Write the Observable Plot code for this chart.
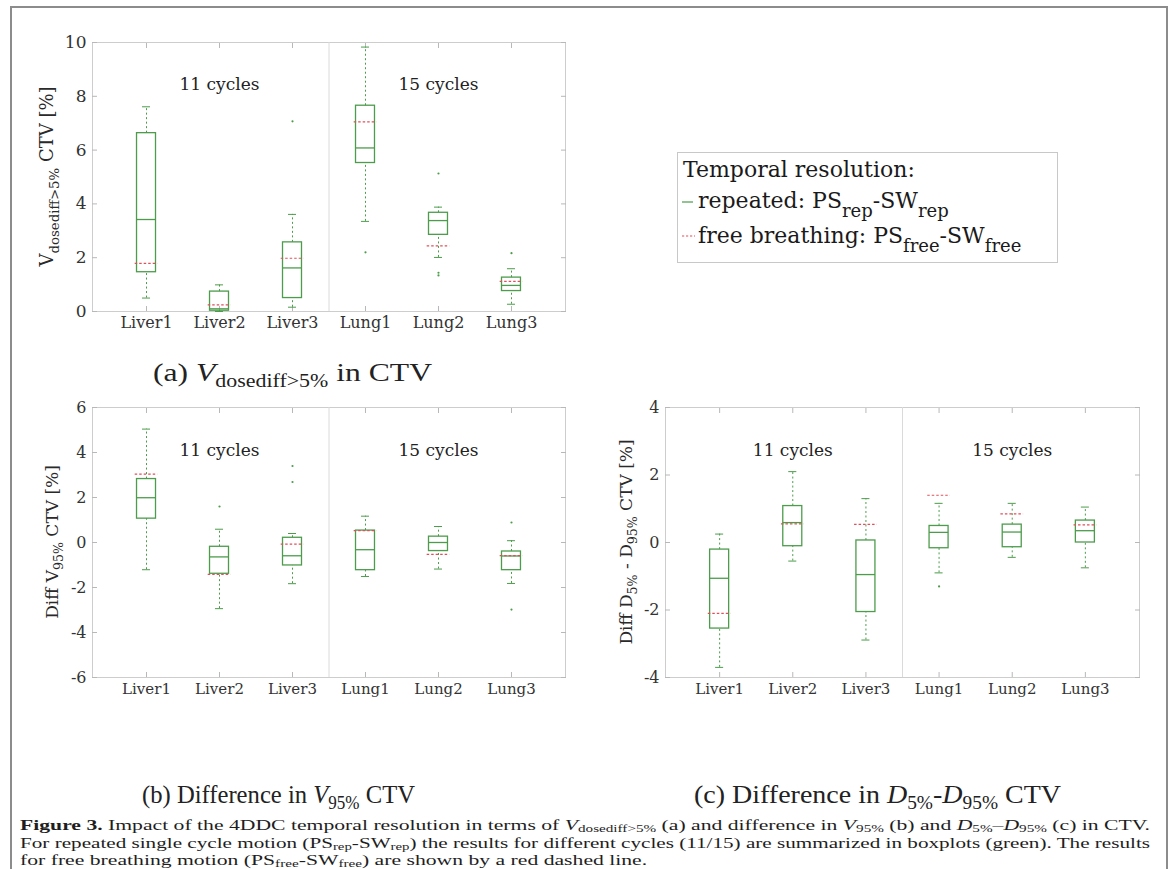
<!DOCTYPE html>
<html>
<head>
<meta charset="utf-8">
<script src="https://cdn.jsdelivr.net/npm/d3@7"></script>
<script src="https://cdn.jsdelivr.net/npm/@observablehq/plot@0.6"></script>
<style>
  html, body { margin: 0; padding: 0; background: #fff; }
  #fig { position: relative; width: 1173px; height: 869px; overflow: hidden; background: #fff; }
  #frame { position: absolute; left: 10px; top: 6px; width: 1158px; height: 900px; border: 2px solid #8c8c8c; box-sizing: border-box; }
  .panel { position: absolute; }
  .panel svg { display: block; max-width: none !important; overflow: visible; }
  .sub { position: absolute; white-space: nowrap; font-family: "Liberation Serif", serif; font-size: 26px; line-height: normal; color: #222; transform-origin: 0 0; }
  .sub sub { font-size: 18px; vertical-align: -6px; line-height: 0; }
  #legend { position: absolute; left: 677px; top: 152px; width: 381px; height: 111px; border: 1px solid #c8c8c8; box-sizing: border-box; background: #fff; font-family: "DejaVu Serif", serif; font-size: 22px; color: #1a1a1a; }
  #legend .row { position: absolute; white-space: nowrap; line-height: normal; }
  #legend sub { font-size: 18px; vertical-align: -8.5px; line-height: 0; }
  #legend svg { position: absolute; }
  .cap { position: absolute; left: 20px; height: 16px; white-space: nowrap; font-family: "Liberation Serif", serif; font-size: 15px; line-height: 16px; color: #1e1e1e; transform-origin: 0 0; }
  .cap sub { font-size: 10.5px; vertical-align: -1.5px; line-height: 0; }
</style>
</head>
<body>
<div id="fig">
  <div id="frame"></div>
  <div class="panel" id="pa" style="left:0px;top:0px;width:600px;"></div>
  <div class="panel" id="pb" style="left:0px;top:380px;width:600px;"></div>
  <div class="panel" id="pc" style="left:580px;top:380px;width:580px;"></div>

  <div id="legend">
    <div class="row" style="left:5px;top:3.6px;">Temporal resolution:</div>
    <svg style="left:4px;top:47px;" width="12" height="4"><line x1="0" y1="2" x2="11" y2="2" stroke="#4c9c4c" stroke-width="1.2"/></svg>
    <div class="row" style="left:20px;top:35.1px;">repeated: PS<sub>rep</sub>-SW<sub>rep</sub></div>
    <svg style="left:4px;top:81px;" width="14" height="4"><line x1="0" y1="2" x2="13" y2="2" stroke="#e0505a" stroke-width="1.2" stroke-dasharray="2.2,1.8"/></svg>
    <div class="row" style="left:20px;top:69.6px;">free breathing: PS<sub>free</sub>-SW<sub>free</sub></div>
  </div>

  <div class="sub" id="suba" data-cx="292" data-w="279" style="top:358px;">(a) <i>V</i><sub>dosediff&gt;5%</sub> in CTV</div>
  <div class="sub" id="subb" data-cx="278" data-w="273" style="top:780px;">(b) Difference in <i>V</i><sub>95%</sub> CTV</div>
  <div class="sub" id="subc" data-cx="877" data-w="367" style="top:780px;">(c) Difference in <i>D</i><sub>5%</sub>-<i>D</i><sub>95%</sub> CTV</div>

  <div class="cap" id="cap1" data-w="1130" style="top:817.2px;"><b>Figure 3.</b> Impact of the 4DDC temporal resolution in terms of <i>V</i><sub>dosediff&gt;5%</sub> (a) and difference in <i>V</i><sub>95%</sub> (b) and <i>D</i><sub>5%</sub>–<i>D</i><sub>95%</sub> (c) in CTV.</div>
  <div class="cap" id="cap2" data-w="1130" style="top:834.7px;">For repeated single cycle motion (PS<sub>rep</sub>-SW<sub>rep</sub>) the results for different cycles (11/15) are summarized in boxplots (green). The results</div>
  <div class="cap" id="cap3" style="top:852.2px;">for free breathing motion (PS<sub>free</sub>-SW<sub>free</sub>) are shown by a red dashed line.</div>
</div>

<script>
// Cases and cycle groups shared by all three panels
const cases = ["Liver1", "Liver2", "Liver3", "Lung1", "Lung2", "Lung3"];
const groups = ["11 cycles", "15 cycles"];
const groupSizes = [3, 3];

// (a) V_dosediff>5% in CTV [%]
const aLow  = [0.50, 0.00, 0.16, 3.35, 2.01, 0.27];
const aQ1   = [1.46, 0.03, 0.50, 5.52, 2.85, 0.76];
const aMed  = [3.42, 0.10, 1.62, 6.08, 3.38, 0.97];
const aQ3   = [6.63, 0.74, 2.57, 7.65, 3.67, 1.26];
const aHigh = [7.61, 0.99, 3.61, 9.83, 3.88, 1.59];
const aFree = [1.79, 0.25, 1.98, 7.05, 2.44, 1.12];
const aOutliers = [[], [], [7.07], [2.20], [5.13, 1.44, 1.34], [2.17]];
const aTicks = [0, 2, 4, 6, 8, 10];

// (b) Difference in V95% CTV [%]
const bLow  = [-1.21, -2.94, -1.83, -1.51, -1.18, -1.82];
const bQ1   = [1.06, -1.39, -1.02, -1.23, -0.38, -1.23];
const bMed  = [1.99, -0.64, -0.59, -0.32, 0.00, -0.60];
const bQ3   = [2.82, -0.19, 0.21, 0.53, 0.26, -0.40];
const bHigh = [5.04, 0.59, 0.40, 1.17, 0.71, 0.08];
const bFree = [3.04, -1.42, -0.07, 0.53, -0.53, -0.58];
const bOutliers = [[], [1.60], [3.40, 2.69], [], [], [0.89, -2.98]];
const bTicks = [-6, -4, -2, 0, 2, 4, 6];

// (c) Difference in D5%-D95% CTV [%]
const cLow  = [-3.70, -0.55, -2.89, -0.90, -0.44, -0.75];
const cQ1   = [-2.55, -0.11, -2.06, -0.17, -0.14, 0.00];
const cMed  = [-1.06, 0.59, -0.95, 0.30, 0.31, 0.35];
const cQ3   = [-0.21, 1.08, 0.06, 0.49, 0.53, 0.65];
const cHigh = [0.25, 2.10, 1.30, 1.16, 1.16, 1.05];
const cFree = [-2.10, 0.55, 0.54, 1.40, 0.85, 0.52];
const cOutliers = [[], [], [], [-1.30], [], []];
const cTicks = [-4, -2, 0, 2, 4];

const GREEN = "#4c9c4c";
const RED = "#e0505a";
const FRAME = "#cdcdcd";
const TICK = "#b8b8b8";
const INK = "#333";
const SERIF = '"DejaVu Serif", serif';

function boxPanel(s, o) {
  const rows = cases.map((name, i) => ({
    pos: i + 1, name,
    low: s.low[i], q1: s.q1[i], med: s.med[i], q3: s.q3[i], high: s.high[i], free: s.free[i]
  }));
  const outliers = s.outliers.flatMap((vs, i) => vs.map(v => ({pos: i + 1, v})));
  let start = 0.5;
  const grp = groups.map((label, j) => {
    const g = {label, mid: start + groupSizes[j] / 2, end: start + groupSizes[j]};
    start = g.end;
    return g;
  });
  const pos = rows.map(d => d.pos);
  const halfBox = 0.13, halfCap = 0.055, halfFree = 0.155;
  const tickFmt = d => String(d);

  return Plot.plot({
    width: o.width, height: o.height,
    marginLeft: o.ml, marginRight: o.mr, marginTop: o.mt, marginBottom: o.mb,
    style: {fontFamily: SERIF, fontSize: "16px", color: INK, background: "transparent"},
    x: {type: "linear", domain: [0.26, 6.74]},
    y: {domain: o.yDomain},
    marks: [
      Plot.frame({stroke: FRAME}),
      Plot.ruleX(grp.slice(0, -1), {x: "end", stroke: "#dadada"}),
      // inward tick marks on all four sides
      Plot.axisX({anchor: "bottom", ticks: pos, tickSize: -5, fill: "none", stroke: TICK, label: null}),
      Plot.axisX({anchor: "top", ticks: pos, tickSize: -5, fill: "none", stroke: TICK, label: null}),
      Plot.axisY({anchor: "left", ticks: o.yTicks, tickSize: -5, fill: "none", stroke: TICK, label: null}),
      Plot.axisY({anchor: "right", ticks: o.yTicks, tickSize: -5, fill: "none", stroke: TICK, label: null}),
      // tick labels
      Plot.axisX({anchor: "bottom", ticks: pos, tickSize: 0, tickPadding: o.xPad, tickFormat: d => cases[d - 1],
        stroke: "none", fill: INK, fontSize: o.xfs, label: null}),
      Plot.axisY({anchor: "left", ticks: o.yTicks, tickSize: 0, tickPadding: 6, tickFormat: tickFmt,
        stroke: "none", fill: INK, fontSize: o.yfs, label: null}),
      Plot.text(grp, {x: "mid", frameAnchor: "top", dy: o.groupDy, text: "label", fill: "#222", fontSize: 17}),
      // whiskers
      Plot.ruleX(rows, {x: "pos", y1: "q3", y2: "high", stroke: GREEN, strokeDasharray: "2,2.5"}),
      Plot.ruleX(rows, {x: "pos", y1: "low", y2: "q1", stroke: GREEN, strokeDasharray: "2,2.5"}),
      Plot.ruleY(rows, {y: "high", x1: d => d.pos - halfCap, x2: d => d.pos + halfCap, stroke: GREEN}),
      Plot.ruleY(rows, {y: "low", x1: d => d.pos - halfCap, x2: d => d.pos + halfCap, stroke: GREEN}),
      // boxes and medians
      Plot.rect(rows, {x1: d => d.pos - halfBox, x2: d => d.pos + halfBox, y1: "q1", y2: "q3",
        fill: "none", stroke: GREEN, strokeWidth: 1.3}),
      Plot.ruleY(rows, {y: "med", x1: d => d.pos - halfBox, x2: d => d.pos + halfBox, stroke: GREEN, strokeWidth: 1.3}),
      // free breathing result
      Plot.ruleY(rows, {y: "free", x1: d => d.pos - halfFree, x2: d => d.pos + halfFree,
        stroke: RED, strokeWidth: 1.2, strokeDasharray: "2.5,2"}),
      Plot.dot(outliers, {x: "pos", y: "v", r: 1.1, fill: GREEN, stroke: null})
    ]
  });
}

// rotated y label with subscripts: parts = [[text, isSub], ...]
function yLabel(svg, x, y, parts, size) {
  const t = d3.select(svg).append("text")
    .attr("transform", `translate(${x},${y}) rotate(-90)`)
    .attr("text-anchor", "middle")
    .attr("font-family", SERIF)
    .attr("fill", "#2a2a2a");
  let shifted = false;
  parts.forEach(([txt, sub]) => {
    const sp = t.append("tspan").text(txt).attr("font-size", sub ? size * 0.74 : size);
    if (sub && !shifted) { sp.attr("dy", size * 0.32); shifted = true; }
    else if (!sub && shifted) { sp.attr("dy", -size * 0.32); shifted = false; }
  });
}

const pa = boxPanel(
  {low: aLow, q1: aQ1, med: aMed, q3: aQ3, high: aHigh, free: aFree, outliers: aOutliers},
  {width: 600, height: 345, ml: 92, mr: 35, mt: 42, mb: 34, yDomain: [0, 10], yTicks: aTicks,
   xPad: 5, xfs: 16, yfs: 17, groupDy: 35});
document.getElementById("pa").append(pa);
yLabel(pa, 53, 176.5, [["V", false], ["dosediff>5%", true], [" CTV [%]", false]], 18);

const pb = boxPanel(
  {low: bLow, q1: bQ1, med: bMed, q3: bQ3, high: bHigh, free: bFree, outliers: bOutliers},
  {width: 600, height: 330, ml: 92, mr: 35, mt: 27, mb: 33, yDomain: [-6, 6], yTicks: bTicks,
   xPad: 6, xfs: 15, yfs: 16, groupDy: 36});
document.getElementById("pb").append(pb);
yLabel(pb, 58, 162, [["Diff V", false], ["95%", true], [" CTV [%]", false]], 17);

const pc = boxPanel(
  {low: cLow, q1: cQ1, med: cMed, q3: cQ3, high: cHigh, free: cFree, outliers: cOutliers},
  {width: 580, height: 330, ml: 85, mr: 21, mt: 27, mb: 33, yDomain: [-4, 4], yTicks: cTicks,
   xPad: 6, xfs: 15, yfs: 16, groupDy: 36});
document.getElementById("pc").append(pc);
yLabel(pc, 52, 162, [["Diff D", false], ["5%", true], [" - D", false], ["95%", true], [" CTV [%]", false]], 17);

// stretch caption lines to their set widths
function fit(el, w) {
  const nat = el.getBoundingClientRect().width;
  const k = w / nat;
  el.style.transform = `scaleX(${k})`;
  return k;
}
for (const id of ["suba", "subb", "subc"]) {
  const el = document.getElementById(id);
  const w = +el.dataset.w, cx = +el.dataset.cx;
  fit(el, w);
  el.style.left = (cx - w / 2) + "px";
}
const k1 = fit(document.getElementById("cap1"), 1130);
fit(document.getElementById("cap2"), 1130);
document.getElementById("cap3").style.transform = `scaleX(${k1})`;
</script>
</body>
</html>
